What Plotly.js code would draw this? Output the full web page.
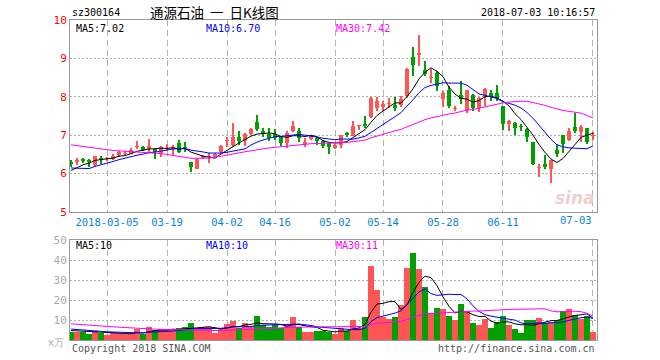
<!DOCTYPE html>
<html><head><meta charset="utf-8">
<script src="https://cdn.plot.ly/plotly-3.0.1.min.js"></script>
<style>html,body{margin:0;padding:0;background:#fff}#chart{width:660px;height:360px}</style>
</head><body><div id="chart"></div>
<script>
const dates = [
'2018-02-23','2018-02-26','2018-02-27','2018-02-28',
'2018-03-01','2018-03-02','2018-03-05','2018-03-06','2018-03-07','2018-03-08','2018-03-09','2018-03-12','2018-03-13','2018-03-14','2018-03-15','2018-03-16','2018-03-19','2018-03-20','2018-03-21','2018-03-22','2018-03-23','2018-03-26','2018-03-27','2018-03-28','2018-03-29','2018-03-30',
'2018-04-02','2018-04-03','2018-04-04','2018-04-09','2018-04-10','2018-04-11','2018-04-12','2018-04-13','2018-04-16','2018-04-17','2018-04-18','2018-04-19','2018-04-20','2018-04-23','2018-04-24','2018-04-25','2018-04-26','2018-04-27',
'2018-05-02','2018-05-03','2018-05-04','2018-05-07','2018-05-08','2018-05-09','2018-05-10','2018-05-11','2018-05-14','2018-05-15','2018-05-16','2018-05-17','2018-05-18','2018-05-21','2018-05-22','2018-05-23','2018-05-24','2018-05-25','2018-05-28','2018-05-29','2018-05-30','2018-05-31',
'2018-06-01','2018-06-04','2018-06-05','2018-06-06','2018-06-07','2018-06-08','2018-06-11','2018-06-12','2018-06-13','2018-06-14','2018-06-15','2018-06-19','2018-06-20','2018-06-21','2018-06-22','2018-06-25','2018-06-26','2018-06-27','2018-06-28','2018-06-29',
'2018-07-02','2018-07-03'];

const open = [6.29,6.30,6.37,6.35,6.22,6.40,6.38,6.38,6.48,6.52, 6.51,6.68,6.70,6.63,6.63,6.53,6.68,6.63,6.79,6.70,
 6.31,6.13,6.41,6.43,6.44,6.55,6.86,6.75,6.96,6.84, 7.04,7.35,7.10,7.02,7.03,6.96,6.79,7.11,7.11,6.77,
 6.89,6.92,6.85,6.79,6.66,6.75,7.07,6.98,7.24,7.30, 7.47,7.71,7.73,7.82,7.78,7.79,8.02,9.03,9.10,8.69,
 8.48,8.63,7.93,8.19,7.68,8.05,7.63,8.06,7.72,8.03, 8.09,8.09,7.75,7.30,7.33,7.24,7.17,6.82,6.15,6.26,
 6.12,6.61,7.00,6.88,7.21,7.09,7.18,6.99];
const high = [6.35,6.40,6.40,6.37,6.47,6.45,6.44,6.50,6.58,6.60, 6.66,6.85,6.72,6.90,6.65,6.72,6.77,6.74,6.88,6.83,
 6.31,6.40,6.49,6.53,6.53,6.74,6.95,7.33,7.11,7.06, 7.20,7.52,7.20,7.20,7.17,6.98,7.10,7.38,7.18,6.92,
 6.98,6.96,6.88,6.80,6.78,7.00,7.09,7.36,7.27,7.51, 7.99,7.99,7.89,7.97,7.99,8.02,8.74,9.29,9.61,8.92,
 8.72,8.68,8.14,8.28,7.77,8.40,8.18,8.08,8.00,8.22, 8.19,8.30,7.75,7.39,7.34,7.30,7.18,6.82,6.25,6.48,
 6.35,6.78,7.00,7.18,7.58,7.27,7.20,7.08];
const low = [6.16,6.22,6.28,6.18,6.20,6.25,6.34,6.35,6.44,6.48, 6.50,6.65,6.58,6.53,6.39,6.44,6.60,6.48,6.54,6.55,
 6.04,6.12,6.38,6.28,6.42,6.50,6.70,6.70,6.75,6.73, 7.01,7.10,6.96,6.85,6.88,6.72,6.66,7.09,6.83,6.70,
 6.87,6.75,6.66,6.52,6.63,6.66,6.95,6.97,7.14,7.20, 7.45,7.62,7.63,7.71,7.62,7.74,7.97,8.54,8.79,8.54,
 8.37,8.15,7.73,7.70,7.62,7.82,7.58,7.62,7.60,7.76, 7.89,7.89,7.14,7.10,7.00,7.11,6.83,6.22,5.91,6.12,
 5.75,6.42,6.54,6.85,7.07,6.82,6.76,6.88];
const close = [6.26,6.35,6.34,6.31,6.46,6.37,6.40,6.47,6.57,6.54, 6.61,6.72,6.61,6.73,6.57,6.68,6.69,6.70,6.57,6.66,
 6.18,6.39,6.47,6.45,6.52,6.73,6.88,6.96,6.84,7.04, 7.15,7.16,7.02,6.92,6.93,6.80,7.05,7.23,6.92,6.83,
 6.97,6.84,6.73,6.70,6.75,7.00,7.00,7.23,7.26,7.23, 7.96,7.89,7.80,7.85,7.72,7.93,8.72,8.82,9.14,8.59,
 8.50,8.28,8.11,7.77,7.70,7.94,8.17,7.72,7.98,8.21, 7.99,7.96,7.28,7.38,7.20,7.22,6.96,6.25,6.17,6.16,
 6.35,6.52,6.77,7.10,7.10,7.21,6.83,7.01];
const volume = [4.2,4.2,4.2,3.2,4.5,3.7,2.5,3.8,3.3,3.0, 3.0,5.5,2.8,6.5,5.0,5.5,5.0,5.0,5.8,6.3,
 8.5,5.8,6.3,6.3,3.7,5.8,8.0,9.7,6.0,8.3, 7.0,12.0,7.5,6.3,7.3,5.8,7.5,11.5,6.7,4.2,
 4.2,4.7,4.5,3.8,3.0,6.2,4.7,10.0,6.2,11.5, 37.2,25.0,11.7,10.5,11.5,17.5,36.2,43.7,35.5,26.7,
 13.7,16.2,15.5,12.2,10.0,18.0,14.5,8.7,7.5,10.5, 6.2,9.0,12.0,7.5,5.7,3.7,9.8,10.0,11.2,8.7,
 8.8,10.0,14.7,15.5,12.5,10.3,12.2,4.2];
// estimated closes / volumes of the 29 sessions before the window (for moving averages)
const prevClose = [7.05,7.04,7.00,7.15,7.08,7.10, 6.72,6.82,6.80,6.86,6.95,6.86,6.98,6.82,
 7.38,7.39,7.40,7.27,7.36,7.00, 6.40,6.45,6.30,5.90,6.00,5.95,6.00,6.10,6.10];
const prevVolume = [12,11,10,9,11,10,8,9,10,9, 8,9,10,9,8,9,10,9,8,9, 7,6,7,6,5,5,5,4.5,5];

const tickDates = ['2018-03-05','2018-03-19','2018-04-02','2018-04-16','2018-05-02','2018-05-14','2018-05-28','2018-06-11','2018-07-03'];
const priceTicks = [5,6,7,8,9,10];
const volumeTicks = [10,20,30,40,50];
const maPeriods = [5,10,30];
const maColors = ['#000000','#0000ff','#ff00ff'];
const priceMALabels = ['MA5:7.02','MA10:6.70','MA30:7.42'];
const volumeMALabels = ['MA5:10','MA10:10','MA30:11'];

const UP = '#ff5555', DOWN = '#00a000';
function movingAvg(values, prev, n){
  const all = prev.concat(values), off = prev.length;
  return values.map((v,i)=>{
    const end = off+i, start = end-n+1;
    if(start<0) return null;
    let s=0; for(let j=start;j<=end;j++) s+=all[j];
    return s/n;
  });
}
const colors = close.map((c,i)=> c>=open[i] ? UP : DOWN);

const traces = [];
traces.push({type:'bar', x:dates, base:low, y:high.map((h,i)=>h-low[i]), width:0.18,
  marker:{color:colors, line:{width:0}}, xaxis:'x', yaxis:'y', hoverinfo:'skip'});
traces.push({type:'bar', x:dates, base:open.map((o,i)=>Math.min(o,close[i])),
  y:open.map((o,i)=>Math.max(Math.abs(close[i]-o),0.025)), width:0.78,
  marker:{color:colors, line:{width:0}}, xaxis:'x', yaxis:'y', hoverinfo:'skip'});
maPeriods.forEach((n,k)=>{
  traces.push({type:'scatter', mode:'lines', x:dates, y:movingAvg(close,prevClose,n),
    line:{color:maColors[k], width:1}, xaxis:'x', yaxis:'y', hoverinfo:'skip'});
});
traces.push({type:'bar', x:dates, y:volume, width:0.86,
  marker:{color:colors, line:{width:0}}, xaxis:'x2', yaxis:'y2', hoverinfo:'skip'});
maPeriods.forEach((n,k)=>{
  traces.push({type:'scatter', mode:'lines', x:dates, y:movingAvg(volume,prevVolume,n),
    line:{color:maColors[k], width:1}, xaxis:'x2', yaxis:'y2', hoverinfo:'skip'});
});

const W=660,H=360,L=70,R=63,T=20,B=20;
const pw=W-L-R, ph=H-T-B;
const px=x=>(x-L)/pw, py=y=>(H-B-y)/ph;
const mono='DejaVu Sans Mono, monospace';
const gridX={showgrid:true, gridcolor:'#b0b0b0', griddash:'6px,4px', gridwidth:1, showline:true, mirror:true, linecolor:'#999', linewidth:1, ticks:'', zeroline:false};
const gridY={showgrid:true, gridcolor:'#b0b0b0', griddash:'2px,2px', gridwidth:1, showline:true, mirror:true, linecolor:'#999', linewidth:1, ticks:'', zeroline:false};

const ann = [];
function A(text,x,y,anchor,color,size,family){
  ann.push({text:text, xref:'paper', yref:'paper', x:px(x), y:py(y), xanchor:anchor, yanchor:'middle',
    showarrow:false, font:{family:family||mono, size:size||10, color:color||'#000'}});
}
A('sz300164',70,12,'left','#000',10);
A('通源石油\u00a0\u00a0一\u00a0\u00a0日K线图',214,12,'center','#000',13.5,'Noto Sans CJK SC');
A('2018-07-03 10:16:57',597,12,'right','#000',10);
const maX=[74,204,334];
priceMALabels.forEach((t,k)=>A(t,maX[k],28,'left',maColors[k],10));
volumeMALabels.forEach((t,k)=>A(t,maX[k],245,'left',maColors[k],10));
A('Copyright 2018 SINA.COM',70,348,'left','#555',10);
A('http://finance.sina.com.cn',597,348,'right','#555',10);
A('x万',56,342,'center','#aaa',10);
A('<b><i>sina</i></b>',575,198,'center','#ecd0d0',17,'DejaVu Sans');
// last date label sits left of its gridline so it stays inside the frame
const lastTick = tickDates[tickDates.length-1];
ann.push({text:lastTick.slice(5), xref:'x', yref:'paper', x:lastTick, y:py(220), xanchor:'right', yanchor:'middle',
  xshift:1, showarrow:false, font:{family:mono, size:10.5, color:'#0a84d8'}});

const layout = {
  width:W, height:H, margin:{l:L,r:R,t:T,b:B},
  paper_bgcolor:'#fff', plot_bgcolor:'#fff', showlegend:false, hovermode:false,
  barmode:'overlay', bargap:0,
  font:{family:mono, size:10.5},
  xaxis:Object.assign({type:'category', anchor:'y', domain:[0,1], range:[-0.17,87.67],
    tickvals:tickDates, ticktext:tickDates.map((d,i)=> i===0 ? d : (d===lastTick ? '' : d.slice(5))),
    tickfont:{family:mono, size:10.5, color:'#0a84d8'}, tickangle:0}, gridX),
  yaxis:Object.assign({domain:[(H-B-212)/ph,1], range:[5,10], tickvals:priceTicks,
    tickfont:{family:mono, size:11, color:'#ff0000'}}, gridY),
  xaxis2:Object.assign({type:'category', anchor:'y2', matches:'x', domain:[0,1],
    tickvals:tickDates, showticklabels:false}, gridX),
  yaxis2:Object.assign({domain:[0,(H-B-240)/ph], range:[0,50], tickvals:volumeTicks,
    tickfont:{family:mono, size:11, color:'#aaa'}}, gridY),
  annotations:ann
};
Plotly.newPlot('chart', traces, layout, {staticPlot:true, displayModeBar:false});
</script></body></html>
